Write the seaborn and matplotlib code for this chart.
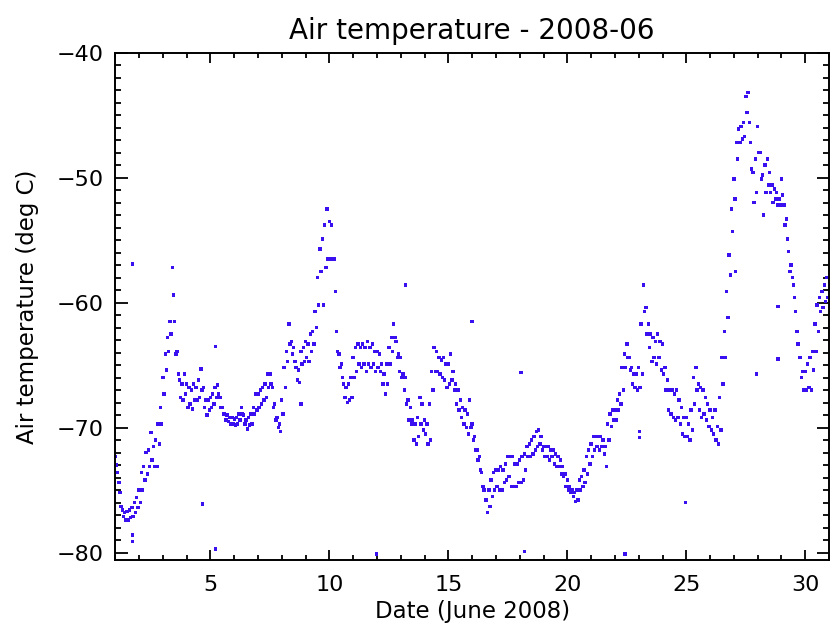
import numpy as np
import pandas as pd
import matplotlib
matplotlib.use("Agg")
import matplotlib.pyplot as plt
import seaborn as sns
from matplotlib.ticker import MultipleLocator

# ---- data read from the reference (deg C), sampled every 0.1 day from day 1.0 ----
# upper edge of the point cloud
temp_hi = [
    -72.3, -73.6, -75.2, -76.6, -76.8, -76.7, -76.6, -76.4, -76.0, -75.6,
    -75.0, -73.6, -73.1, -72.0, -71.8, -70.4, -71.5, -71.0, -69.7, -68.4,
    -66.0, -64.1, -62.8, -61.5, -57.2, -61.5, -63.9, -66.2, -66.5, -65.7,
    -66.5, -66.8, -67.0, -66.5, -66.8, -66.2, -65.3, -66.8, -67.8, -67.8,
    -67.6, -67.3, -66.8, -66.6, -67.6, -68.4, -68.9, -69.0, -69.2, -69.2,
    -69.3, -69.2, -68.9, -68.4, -69.0, -69.4, -69.2, -68.9, -68.4, -67.3,
    -67.3, -67.0, -66.8, -66.5, -65.7, -65.7, -66.8, -68.1, -69.2, -69.7,
    -67.8, -65.2, -63.9, -61.7, -63.1, -63.6, -65.2, -65.4, -63.9, -63.6,
    -63.1, -63.3, -62.5, -62.3, -60.7, -58.0, -55.7, -54.9, -53.8, -52.5,
    -53.5, -53.8, -56.5, -62.3, -64.1, -64.9, -66.5, -66.8, -66.5, -66.0,
    -64.4, -63.6, -63.3, -63.6, -63.3, -63.6, -63.1, -63.6, -63.3, -63.9,
    -63.9, -64.1, -64.9, -65.7, -64.9, -63.6, -62.8, -61.7, -63.1, -64.1,
    -64.4, -65.7, -66.0, -67.8, -68.4, -69.4, -69.7, -69.2, -67.6, -68.1,
    -69.4, -69.7, -68.1, -65.5, -63.6, -63.9, -64.4, -64.6, -64.4, -64.9,
    -64.9, -64.1, -65.5, -66.5, -67.0, -67.8, -68.4, -68.6, -68.9, -67.8,
    -69.7, -70.7, -71.8, -72.3, -73.6, -75.0, -75.8, -75.0, -74.2, -73.6,
    -73.4, -73.4, -73.1, -73.4, -72.9, -72.3, -72.3, -72.3, -72.9, -72.9,
    -72.6, -72.3, -72.1, -71.5, -71.3, -71.0, -70.7, -70.3, -70.2, -70.7,
    -71.5, -71.5, -71.5, -71.8, -71.8, -72.1, -72.3, -72.6, -73.1, -73.7,
    -74.2, -74.7, -75.0, -75.2, -75.0, -74.2, -73.9, -73.4, -72.3, -71.8,
    -71.3, -70.7, -70.7, -70.7, -70.7, -71.0, -71.5, -69.7, -68.9, -68.6,
    -68.6, -67.8, -67.3, -65.2, -64.1, -63.3, -64.4, -65.2, -65.7, -65.7,
    -65.2, -61.7, -58.6, -60.4, -61.7, -62.5, -62.8, -63.1, -62.5, -63.1,
    -63.3, -65.2, -66.2, -67.0, -67.0, -67.3, -67.0, -67.8, -68.4, -69.2,
    -69.2, -69.7, -68.6, -66.0, -65.2, -66.5, -66.8, -67.0, -67.6, -68.1,
    -68.6, -69.2, -68.6, -69.9, -67.6, -64.4, -62.3, -59.1, -56.2, -52.5,
    -50.1, -47.2, -46.1, -45.9, -45.6, -43.5, -43.2, -47.2, -49.6, -48.5,
    -45.9, -48.0, -49.8, -49.0, -48.5, -49.6, -50.6, -50.9, -51.2, -51.7,
    -50.1, -52.2, -53.3, -55.9, -57.0, -58.6, -60.7, -63.3, -64.4, -65.5,
    -65.5, -64.9, -64.4, -63.9, -61.7, -60.2, -59.6, -59.1, -58.6, -58.0,
]
# lower edge of the point cloud
temp_lo = [
    -73.0, -74.4, -76.3, -77.1, -77.4, -77.4, -77.2, -77.1, -76.8, -76.4,
    -76.0, -75.0, -74.2, -73.7, -73.1, -72.6, -73.1, -73.1, -71.3, -69.7,
    -67.3, -65.4, -63.9, -62.5, -59.4, -64.1, -65.7, -67.6, -67.8, -67.3,
    -68.4, -68.1, -68.5, -67.8, -67.8, -67.6, -67.0, -68.4, -69.0, -68.6,
    -68.4, -68.1, -67.6, -67.3, -68.4, -68.9, -69.4, -69.5, -69.7, -69.7,
    -69.8, -69.7, -69.4, -68.9, -69.7, -70.1, -69.8, -69.7, -68.9, -68.6,
    -68.4, -68.1, -67.8, -67.6, -66.8, -66.5, -68.4, -69.4, -70.0, -70.3,
    -68.9, -66.8, -64.7, -63.3, -64.1, -64.7, -66.2, -66.4, -64.9, -64.7,
    -64.4, -64.7, -63.9, -63.3, -62.0, -60.2, -57.5, -60.2, -57.2, -56.5,
    -56.5, -56.5, -59.1, -63.9, -65.2, -66.0, -67.6, -68.0, -67.8, -67.6,
    -66.0, -65.5, -64.9, -65.2, -64.9, -65.5, -64.9, -65.2, -64.9, -65.5,
    -65.2, -65.5, -66.5, -67.3, -66.5, -64.9, -63.9, -62.8, -64.4, -65.5,
    -66.0, -67.0, -68.1, -69.4, -69.7, -71.0, -71.3, -70.7, -69.7, -70.2,
    -70.5, -71.3, -71.0, -67.0, -65.5, -65.5, -65.7, -66.0, -66.2, -66.8,
    -66.5, -66.2, -67.0, -68.1, -68.6, -69.2, -69.7, -70.0, -70.5, -70.0,
    -71.0, -71.8, -72.6, -73.4, -74.7, -75.8, -76.8, -76.3, -75.5, -75.0,
    -74.7, -75.0, -75.0, -74.4, -74.2, -73.9, -74.7, -74.7, -74.7, -74.4,
    -74.4, -74.2, -73.4, -72.3, -72.3, -72.1, -71.8, -71.5, -71.3, -71.8,
    -72.3, -72.3, -72.6, -72.3, -72.9, -73.1, -73.1, -73.7, -73.9, -74.7,
    -75.0, -75.2, -75.5, -75.9, -75.8, -75.0, -74.7, -74.4, -73.7, -72.9,
    -72.3, -71.8, -71.5, -71.8, -71.5, -72.1, -73.1, -71.0, -69.9, -69.4,
    -69.4, -68.6, -68.1, -67.0, -65.2, -64.4, -65.4, -66.5, -66.8, -67.0,
    -66.8, -65.7, -60.7, -62.5, -63.6, -64.7, -64.4, -64.9, -64.4, -65.4,
    -65.7, -67.0, -68.6, -68.9, -69.2, -69.4, -69.2, -69.7, -70.5, -70.7,
    -70.7, -71.0, -70.2, -68.1, -67.0, -68.6, -69.2, -68.9, -69.4, -69.9,
    -70.2, -70.5, -71.0, -71.3, -70.2, -66.5, -64.4, -61.2, -57.8, -54.3,
    -51.7, -48.5, -47.2, -46.9, -46.7, -44.8, -45.6, -49.3, -52.0, -51.2,
    -48.0, -50.1, -53.0, -51.2, -50.6, -51.2, -52.0, -51.7, -52.2, -52.2,
    -51.4, -53.8, -54.9, -57.5, -58.0, -59.6, -62.3, -64.4, -66.0, -67.0,
    -67.0, -66.8, -67.0, -65.4, -63.9, -62.3, -60.7, -60.4, -59.9, -59.6,
]
# isolated points away from the main curve (day, deg C)
outlier_day = [1.72, 1.72, 1.73, 4.67, 5.21, 5.22, 8.80, 11.97, 13.20, 16.00,
               18.06, 18.20, 22.43, 23.02, 23.03, 24.97, 27.06, 27.94, 28.85, 28.85]
outlier_temp = [-56.9, -78.6, -79.1, -76.1, -63.5, -79.7, -68.1, -80.1, -58.6, -61.5,
                -65.6, -79.9, -80.1, -70.3, -70.8, -76.0, -57.5, -65.7, -60.3, -64.5]

title = "Air temperature - 2008-06"
xlabel = "Date (June 2008)"
ylabel = "Air temperature (deg C)"

# ---- assemble ----
t0 = np.round(1.0 + 0.1 * np.arange(len(temp_hi)), 2)
df = pd.DataFrame({
    "day": np.concatenate([t0, t0 + 0.05, np.array(outlier_day)]),
    "temp": np.concatenate([temp_hi, temp_lo, outlier_temp]),
})

sns.set_style("ticks")
plt.rcParams["font.family"] = ["DejaVu Sans"]
plt.rcParams["axes.unicode_minus"] = True
plt.rcParams["text.color"] = "black"
plt.rcParams["axes.labelcolor"] = "black"

fig = plt.figure(figsize=(8.32, 6.35), dpi=100)
ax = fig.add_axes([0.1385, 0.118, 0.858, 0.799])

sns.scatterplot(data=df, x="day", y="temp", ax=ax, marker="s", s=6.0,
                color="#3a10f0", linewidth=0, edgecolor="none")

ax.set_xlim(1, 31)
ax.set_ylim(-80.6, -40)
ax.xaxis.set_major_locator(MultipleLocator(5))
ax.xaxis.set_minor_locator(MultipleLocator(1))
ax.yaxis.set_major_locator(MultipleLocator(10))
ax.yaxis.set_minor_locator(MultipleLocator(1))

for sp in ax.spines.values():
    sp.set_visible(True)
    sp.set_linewidth(1.4)
    sp.set_color("black")

ax.tick_params(axis="both", which="both", direction="in", top=True, right=True,
               colors="black", labelcolor="black", width=1.3)
ax.tick_params(axis="x", which="major", length=7, pad=11, labelsize=16)
ax.tick_params(axis="x", which="minor", length=3.5)
ax.tick_params(axis="y", which="major", length=9, pad=8, labelsize=16)
ax.tick_params(axis="y", which="minor", length=4.5)

ax.set_xlabel(xlabel, fontsize=16.5, labelpad=3, color="black")
ax.set_ylabel(ylabel, fontsize=16.5, labelpad=13, color="black")
ax.set_title(title, fontsize=20, pad=10, color="black")

fig.savefig("out.png", dpi=100, facecolor="white")
